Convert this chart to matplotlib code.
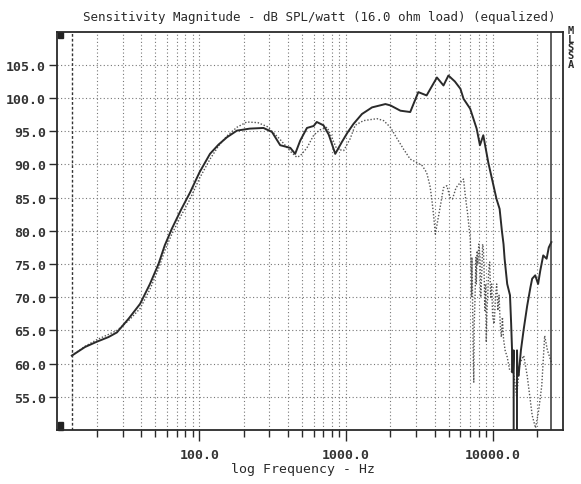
import numpy as np
import matplotlib
matplotlib.use("Agg")
import matplotlib.pyplot as plt
from matplotlib.ticker import FixedLocator, NullFormatter
from matplotlib.patches import Rectangle

# solid trace (on-axis)
solid_f = [13.5, 16.6, 20, 24, 27.4, 33, 39.4, 46, 52.6, 58, 64.8, 75, 86.4, 100,
           118, 135, 154, 180, 220, 273, 312, 355, 416, 449, 486, 540, 600, 630,
           700, 760, 842, 935, 1020, 1120, 1280, 1500, 1850, 2000, 2340, 2730,
           3100, 3530, 4150, 4600, 4970, 5500, 6000, 6300, 6990, 7740, 8150,
           8590, 9290, 10570, 11100, 11500, 11800, 12000, 12500, 13060, 13300,
           13480, 13490, 13700, 13830, 13840, 14200, 14570, 14580, 14700, 14950,
           15500, 16200, 17100, 18000, 18500, 19400, 20300, 21000, 22000, 23200,
           24000, 25000]
solid_db = [61.2, 62.5, 63.3, 64.0, 64.7, 66.8, 69.0, 72.0, 75.0, 77.8, 80.3, 83.2,
            85.8, 88.8, 91.6, 93.0, 94.1, 95.1, 95.4, 95.5, 94.9, 92.9, 92.5, 91.6,
            93.6, 95.5, 95.8, 96.4, 95.9, 94.5, 91.6, 93.4, 94.8, 96.1, 97.6, 98.6,
            99.1, 98.9, 98.1, 97.9, 100.9, 100.4, 103.1, 101.9, 103.4, 102.5, 101.4,
            99.9, 98.4, 95.4, 92.9, 94.4, 90.3, 84.8, 83.3, 80.0, 78.0, 75.8, 72.0,
            70.3, 66.0, 62.2, 58.7, 58.7, 62.0, 45.0, 45.0, 45.0, 62.0, 58.5, 58.2,
            62.0, 65.2, 68.7, 71.5, 72.8, 73.3, 72.0, 74.0, 76.3, 75.8, 77.5, 78.3]

# dotted trace (off-axis)
dot_f = [13.5, 16.6, 20, 24, 27.4, 33, 39.4, 46, 52.6, 58, 64.8, 75, 86.4, 100,
         118, 135, 154, 180, 210, 250, 290, 350, 420, 460, 486, 540, 600, 660,
         741, 800, 864, 962, 1065, 1150, 1310, 1620, 1800, 2000, 2220, 2460, 2730,
         3030, 3300, 3530, 3720, 3830, 3940, 4050, 4200, 4400, 4600, 4850, 5100,
         5300, 5600, 6000, 6300, 6500, 6700, 7000, 7100, 7150, 7200, 7300, 7350,
         7400, 7450, 7550, 7650, 7700, 7800, 7900, 8000, 8150, 8250, 8400, 8500,
         8600, 8700, 8800, 8900, 9000, 9100, 9200, 9350, 9500, 9650, 9800, 9950,
         10200, 10400, 10600, 10800, 11000, 11200, 11400, 11600, 11800, 12100,
         12500, 13000, 13800, 14500, 15200, 16200, 17100, 18500, 19500, 20500,
         21500, 22500, 23500, 25000]
dot_db = [61.2, 62.6, 63.6, 64.4, 65.0, 66.5, 68.3, 71.2, 74.3, 77.0, 79.5, 82.3,
          84.8, 87.9, 90.8, 92.8, 94.3, 95.6, 96.4, 96.3, 95.7, 93.9, 91.9, 91.1,
          91.3, 92.5, 94.4, 95.2, 95.6, 94.0, 92.3, 92.1, 93.9, 95.9, 96.6, 96.9,
          96.6, 95.6, 93.9, 92.3, 90.8, 90.3, 89.8, 88.8, 86.8, 84.8, 82.3, 79.5,
          81.5, 84.0, 86.5, 86.8, 85.0, 84.8, 86.5, 87.3, 87.8, 85.0, 82.8, 78.8,
          74.0, 70.0, 76.0, 65.0, 60.0, 57.2, 66.0, 70.0, 76.0, 72.0, 77.0, 75.0,
          78.0, 76.3, 70.0, 74.0, 78.0, 77.3, 74.0, 68.0, 72.0, 63.2, 68.0, 70.0,
          74.0, 75.3, 70.0, 72.0, 67.0, 66.0, 70.0, 72.0, 68.0, 70.3, 66.0, 64.0,
          67.0, 63.7, 62.0, 61.0, 59.0, 58.7, 55.0, 60.0, 61.2, 58.2, 52.2, 50.3,
          53.0, 56.7, 64.2, 62.0, 60.2]

yticks = [55, 60, 65, 70, 75, 80, 85, 90, 95, 100, 105]
xticks = [100, 1000, 10000]
start_f = 13.5
stop_f = 25000

fig = plt.figure(figsize=(5.81, 4.85), dpi=100)
ax = fig.add_axes([57/581, 1-431/485, (563-57)/581, (431-32.7)/485])

ink = '#2a2a2a'
ax.semilogx(dot_f, dot_db, color='#555555', lw=1.0, linestyle=(0, (1, 1.3)))
ax.semilogx(solid_f, solid_db, color=ink, lw=1.4)

ax.set_xlim(10.7, 30000)
ax.set_ylim(50, 110)

minor = [m * 10**e for e in range(1, 5) for m in range(2, 10)]
minor = [v for v in minor if 10.7 < v < 30000]
ax.xaxis.set_major_locator(FixedLocator(xticks))
ax.xaxis.set_minor_locator(FixedLocator(minor))
ax.xaxis.set_minor_formatter(NullFormatter())
ax.set_xticklabels(['%.1f' % v for v in xticks])
ax.set_yticks(yticks)
ax.set_yticklabels(['%.1f' % v for v in yticks])

gstyle = dict(color='#777777', lw=0.8, linestyle=(0, (1, 2.2)))
for v in xticks + minor:
    ax.axvline(v, zorder=0, **gstyle)
for v in yticks:
    ax.axhline(v, zorder=0, **gstyle)

# markers for start / stop
ax.axvline(start_f, color='#333333', lw=1.0, linestyle=(0, (2, 1.5)))
ax.axvline(stop_f, color='#333333', lw=1.1)

ax.tick_params(axis='x', which='major', length=8, width=1.0, color=ink,
               labelsize=9.5, labelcolor='#333333', pad=5)
ax.tick_params(axis='x', which='minor', length=5, width=1.0, color=ink)
ax.tick_params(axis='y', length=6, width=1.0, color=ink, labelsize=9.5,
               labelcolor='#333333', pad=2)
for lab in ax.get_xticklabels() + ax.get_yticklabels():
    lab.set_family('DejaVu Sans Mono')
    lab.set_fontweight('bold')

for s in ax.spines.values():
    s.set_color(ink)
    s.set_linewidth(1.3)

# corner blocks
ax.add_patch(Rectangle((0.002, 0.983), 0.01, 0.017, transform=ax.transAxes,
                       color='#222222', clip_on=False))
ax.add_patch(Rectangle((0.002, 0.0), 0.01, 0.02, transform=ax.transAxes,
                       color='#222222', clip_on=False))

fig.text(319/581, 1-18/485, 'Sensitivity Magnitude - dB SPL/watt (16.0 ohm load) (equalized)',
         ha='center', va='center', family='DejaVu Sans Mono', fontsize=9.0,
         color='#2a2a2a')
fig.text(303/581, 1-470/485, 'log Frequency - Hz', ha='center', va='center',
         family='DejaVu Sans Mono', fontsize=9.5, color='#2a2a2a')
fig.text(571/581, 1-48/485, '\n'.join('MLSSA'), ha='center', va='center',
         family='DejaVu Sans Mono', fontsize=7.5, linespacing=0.8,
         fontweight='bold', color='#2a2a2a')

fig.savefig('out.png', dpi=100)
